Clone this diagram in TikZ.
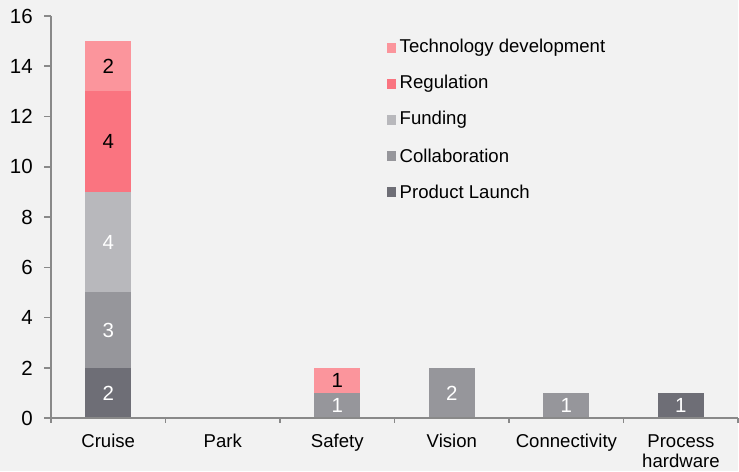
\documentclass[tikz,border=0pt]{standalone}
\usepackage{fontspec}
\setmainfont{Liberation Sans}
\usetikzlibrary{positioning}
\definecolor{chartbg}{HTML}{F2F2F2}
\definecolor{axisgrey}{HTML}{898989}
\definecolor{launch}{HTML}{6E6E76}
\definecolor{collab}{HTML}{96969B}
\definecolor{funding}{HTML}{B8B8BC}
\definecolor{regul}{HTML}{FA7480}
\definecolor{techdev}{HTML}{FB959C}

\begin{document}
\begin{tikzpicture}[x=1pt,y=1pt,
    every node/.style = {font=\fontsize{18.6}{20}\selectfont, inner sep=0pt},
    num/.style = {font=\fontsize{20.5}{22}\selectfont},
    axis/.style = {draw=axisgrey, line width=1.6pt},
    seg/.style = {num, minimum width=46pt, anchor=south},
    legkey/.style = {minimum size=9.5pt}]
\fill[chartbg] (0,0) rectangle (739,472);
\begin{scope}[shift={(51,53.3)}, x=114.67pt, y=25.17pt]
% stacked bars
\foreach \n/\i/\b/\h/\c/\t/\v in {
    cruiseA/0/0/2/launch/white/2, cruiseB/0/2/3/collab/white/3,
    cruiseC/0/5/4/funding/white/4, cruiseD/0/9/4/regul/black/4,
    cruiseE/0/13/2/techdev/black/2,
    safetyA/2/0/1/collab/white/1, safetyB/2/1/1/techdev/black/1,
    visionA/3/0/2/collab/white/2,
    connectA/4/0/1/collab/white/1,
    processA/5/0/1/launch/white/1}
    \node[seg, fill=\c, text=\t, minimum height=\h*25.17pt] (\n) at (\i+0.5,\b) {\v};
% axes
\draw[axis] (0,16) -- (0,0) -- (6,0);
\foreach \v in {0,2,...,16}
    \draw[axis] (0,\v) -- ++(-7pt,0) node[num, anchor=east, xshift=-10.5pt] (tick\v) {\v};
\foreach \i in {0,...,6}
    \draw[axis] (\i,0) -- ++(0,-5pt);
\foreach \n/\i/\t in {cruise/0/Cruise, park/1/Park, safety/2/Safety,
    vision/3/Vision, connect/4/Connectivity, process/5/{Process\\hardware}}
    \node[anchor=north, align=center, yshift=-16pt] (\n) at (\i+0.5,0) {\t};
\end{scope}
% legend
\foreach \n/\y/\c/\t in {tech/424/techdev/Technology development,
    reg/388/regul/Regulation, fund/352/funding/Funding,
    coll/316/collab/Collaboration, prod/280/launch/Product Launch}
{
    \node[legkey, fill=\c] (key\n) at (392,\y) {};
    \node[right=3pt of key\n] (lab\n) {\t};
}
\end{tikzpicture}
\end{document}
